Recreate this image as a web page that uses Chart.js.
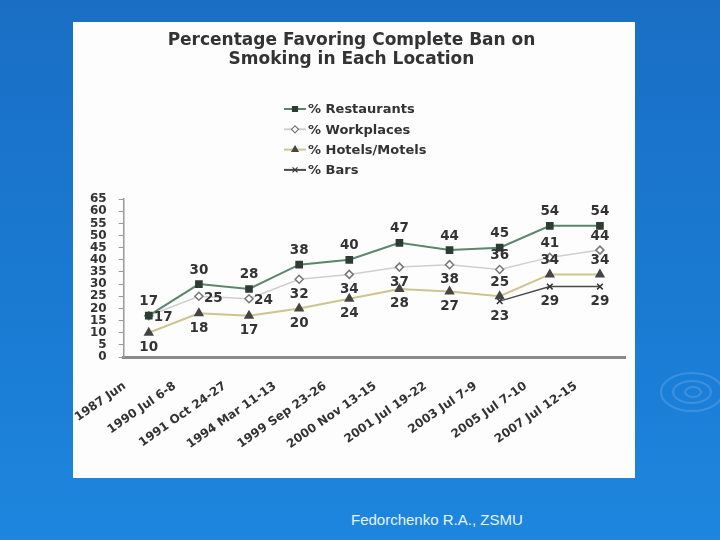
<!DOCTYPE html>
<html>
<head>
<meta charset="utf-8">
<script src="https://cdn.jsdelivr.net/npm/chart.js@4"></script>
<style>
  html, body { margin: 0; padding: 0; }
  body {
    width: 720px; height: 540px; overflow: hidden; position: relative;
    background: linear-gradient(180deg, #1a6fc4 0%, #1a7ad2 55%, #1e86de 100%);
    font-family: "Liberation Sans", Arial, sans-serif;
  }
  #panel { position: absolute; left: 73px; top: 22px; width: 562px; height: 456px; background: #fdfdfd; }
  #footer { position: absolute; left: 351px; top: 511px; color: #e6f3ff; font-size: 15px; }
  .ripple { position: absolute; border-radius: 50%; border: 2px solid rgba(120,180,240,0.35); }
</style>
</head>
<body>
<div class="ripple" style="left:660px;top:372px;width:60px;height:36px"></div>
<div class="ripple" style="left:672px;top:380px;width:36px;height:20px"></div>
<div class="ripple" style="left:684px;top:386px;width:14px;height:8px"></div>
<div id="panel"><canvas id="myChart" width="562" height="456"></canvas></div>
<div id="footer">Fedorchenko R.A., ZSMU</div>
<script>
var categories = ["1987 Jun", "1990 Jul 6-8", "1991 Oct 24-27", "1994 Mar 11-13", "1999 Sep 23-26",
  "2000 Nov 13-15", "2001 Jul 19-22", "2003 Jul 7-9", "2005 Jul 7-10", "2007 Jul 12-15"];
var restaurants = [17, 30, 28, 38, 40, 47, 44, 45, 54, 54];
var workplaces = [17, 25, 24, 32, 34, 37, 38, 36, 41, 44];
var hotels = [10, 18, 17, 20, 24, 28, 27, 25, 34, 34];
var bars = [null, null, null, null, null, null, null, 23, 29, 29];
var yTicks = [0, 5, 10, 15, 20, 25, 30, 35, 40, 45, 50, 55, 60, 65];

// where each value label sits relative to its point
var labelSpots = [
  ["above", "above", "above", "above", "above", "above", "above", "above", "above", "above"],
  ["right", "right", "right", "below", "below", "below", "below", "above", "above", "above"],
  ["below", "below", "below", "below", "below", "below", "below", "above", "above", "above"],
  ["", "", "", "", "", "", "", "below", "below", "below"]
];

var font = "'DejaVu Sans', Verdana, sans-serif";

var valueLabels = {
  id: "valueLabels",
  afterDatasetsDraw: function (chart) {
    var ctx = chart.ctx;
    ctx.save();
    ctx.font = "bold 13.5px " + font;
    ctx.fillStyle = "#333";
    ctx.textBaseline = "middle";
    chart.data.datasets.forEach(function (ds, i) {
      var meta = chart.getDatasetMeta(i);
      meta.data.forEach(function (pt, j) {
        var v = ds.data[j];
        if (v == null) return;
        var spot = labelSpots[i][j];
        var x = pt.x, y = pt.y;
        ctx.textAlign = "center";
        if (spot == "above") y -= 14;
        else if (spot == "below") y += 15;
        else if (spot == "right") { x += 5; y += 2; ctx.textAlign = "left"; }
        ctx.fillText(String(v), x, y);
      });
    });
    ctx.restore();
  }
};

var sideLegend = {
  id: "sideLegend",
  afterDraw: function (chart) {
    var ctx = chart.ctx;
    var x0 = 211, y0 = 87;
    ctx.save();
    chart.data.datasets.forEach(function (ds, i) {
      var y = y0 + i * 20.3;
      ctx.strokeStyle = ds.borderColor;
      ctx.lineWidth = 2;
      ctx.beginPath();
      ctx.moveTo(x0, y);
      ctx.lineTo(x0 + 22, y);
      ctx.stroke();
      ctx.fillStyle = ds.pointBackgroundColor;
      ctx.strokeStyle = ds.pointBorderColor;
      ctx.lineWidth = 1.2;
      Chart.helpers.drawPoint(ctx, { pointStyle: ds.pointStyle, radius: 3.5, rotation: 0, borderWidth: 1.2 }, x0 + 11, y);
      ctx.fillStyle = "#333";
      ctx.font = "bold 13px " + font;
      ctx.textBaseline = "middle";
      ctx.textAlign = "left";
      ctx.fillText(ds.label, x0 + 24, y + 1);
    });
    ctx.restore();
  }
};

var ctx = document.getElementById("myChart").getContext("2d");
var myChart = new Chart(ctx, {
  type: "line",
  data: {
    labels: categories,
    datasets: [
      { label: "% Restaurants", data: restaurants, borderColor: "#5b8769", borderWidth: 2,
        pointStyle: "rect", pointRadius: 4, pointBackgroundColor: "#2c3d33", pointBorderColor: "#2c3d33" },
      { label: "% Workplaces", data: workplaces, borderColor: "#cfcfcf", borderWidth: 1.5,
        pointStyle: "rectRot", pointRadius: 4, pointBackgroundColor: "#ffffff", pointBorderColor: "#777" },
      { label: "% Hotels/Motels", data: hotels, borderColor: "#cfc38e", borderWidth: 2,
        pointStyle: "triangle", pointRadius: 4, pointBackgroundColor: "#444", pointBorderColor: "#444" },
      { label: "% Bars", data: bars, borderColor: "#4a4a4a", borderWidth: 1.5,
        pointStyle: "crossRot", pointRadius: 4, pointBackgroundColor: "#333", pointBorderColor: "#333" }
    ]
  },
  options: {
    responsive: false,
    animation: false,
    layout: { padding: { left: 5, right: 10, bottom: 0 } },
    plugins: {
      legend: { display: false },
      tooltip: { enabled: false },
      title: {
        display: true,
        text: ["Percentage Favoring Complete Ban on", "Smoking in Each Location"],
        color: "#333",
        font: { family: font, size: 17, weight: "bold", lineHeight: 1.12 },
        padding: { top: 9, bottom: 130 }
      }
    },
    scales: {
      x: {
        offset: true,
        grid: { display: false },
        border: { display: true, color: "#8a8a8a", width: 3 },
        ticks: { color: "#333", font: { family: font, size: 12, weight: "bold" },
          minRotation: 35, maxRotation: 35, autoSkip: false, padding: 14, labelOffset: -24 },
        afterFit: function (axis) { axis.height = 121; }
      },
      y: {
        min: 0, max: 65,
        afterBuildTicks: function (axis) { axis.ticks = yTicks.map(function (v) { return { value: v }; }); },
        grid: { drawOnChartArea: false, drawTicks: true, tickLength: 5, color: "#999" },
        border: { display: true, color: "#999", width: 1.5 },
        ticks: { color: "#333", font: { family: font, size: 12, weight: "bold", lineHeight: 1 },
          padding: 12, autoSkip: false }
      }
    }
  },
  plugins: [valueLabels, sideLegend]
});
</script>
</body>
</html>
